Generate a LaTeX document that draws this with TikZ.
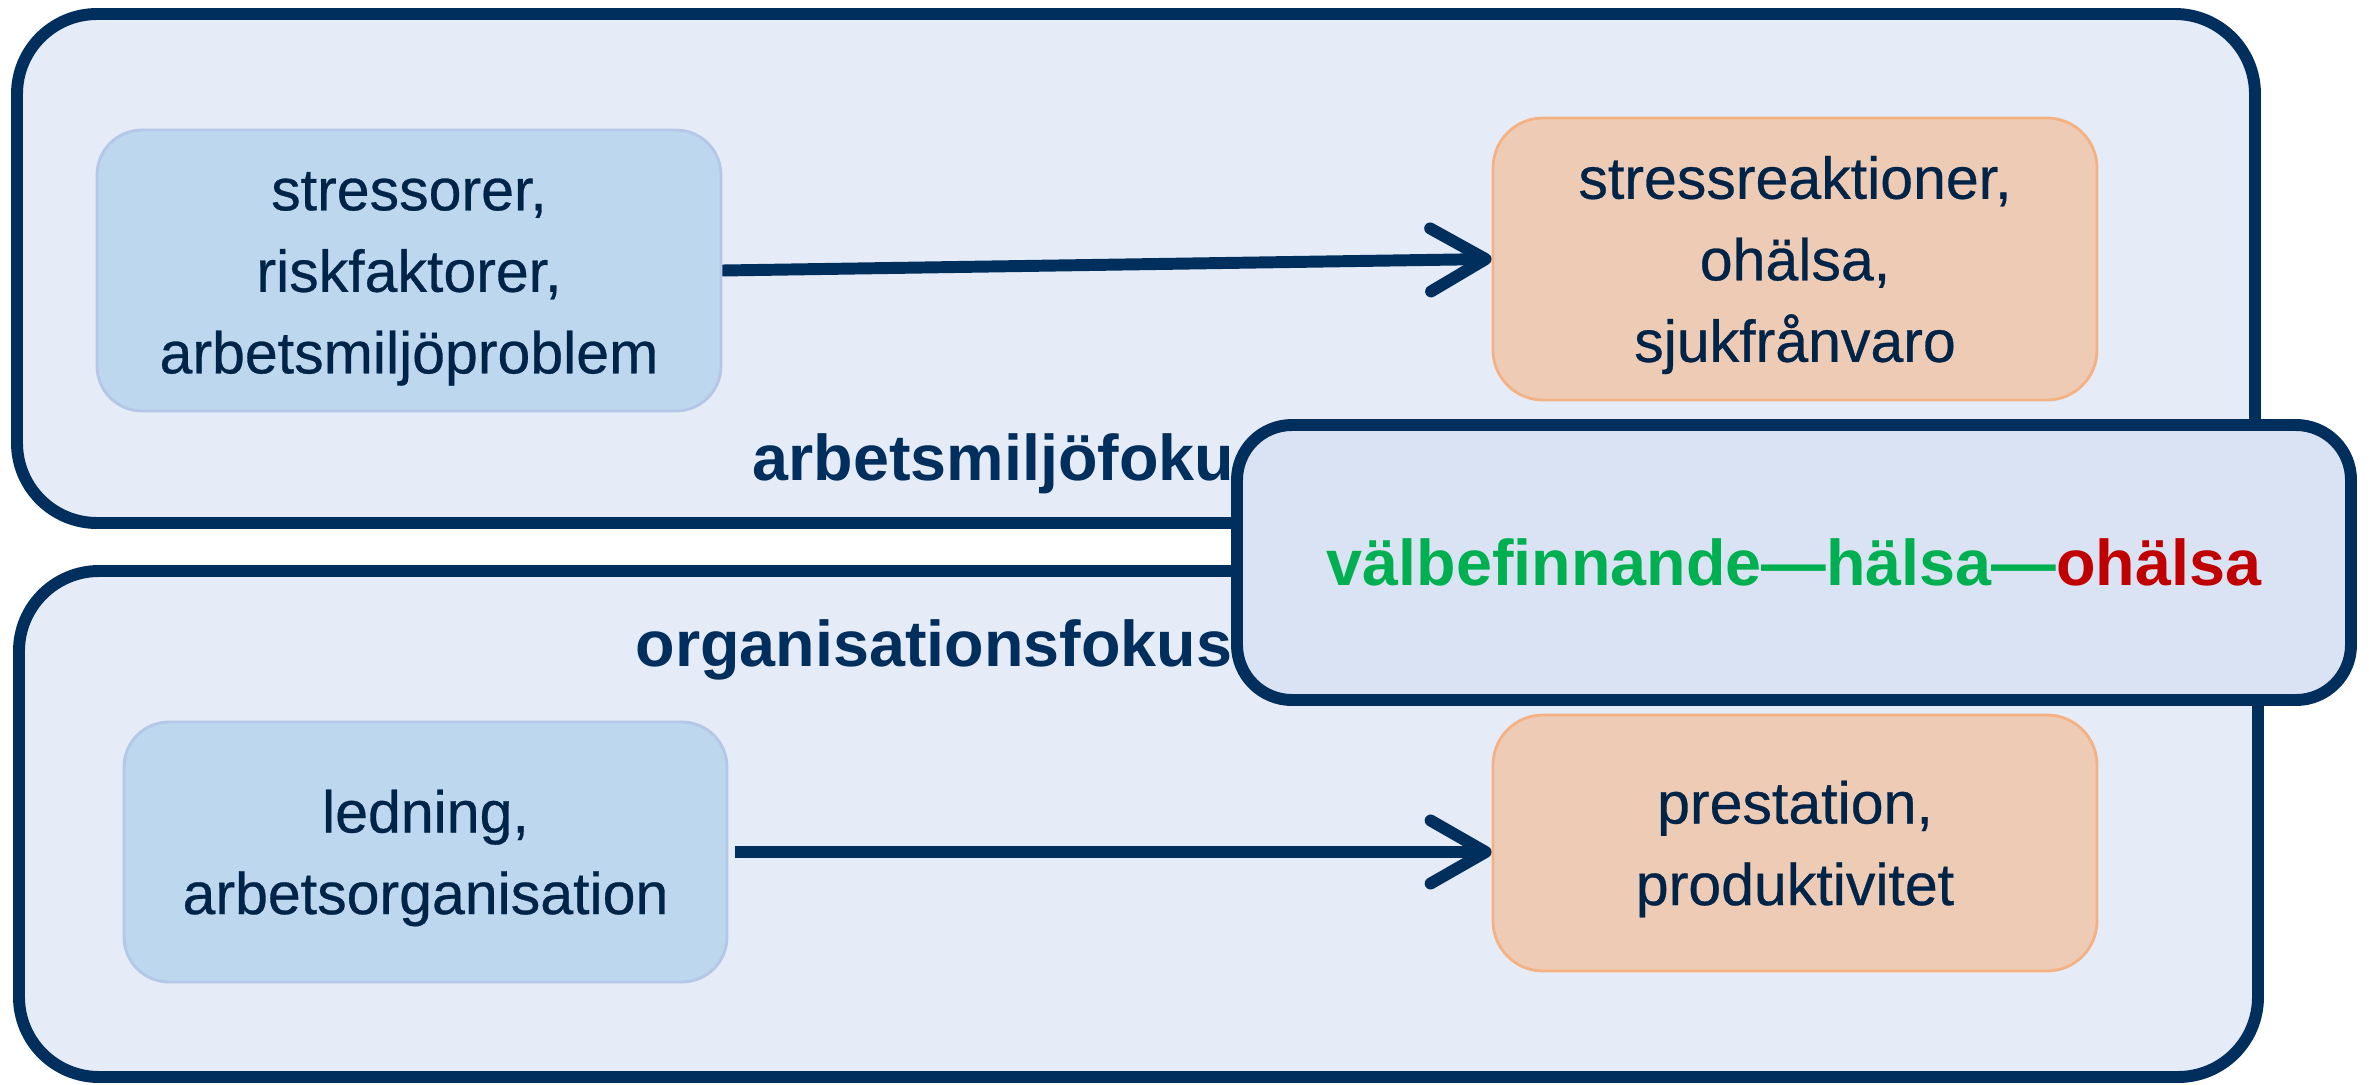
\documentclass[tikz,border=0pt]{standalone}
\usepackage{fontspec}
\setmainfont{Liberation Sans}
\newfontfamily\boxfont[FakeBold=0.5]{Liberation Sans}
\usepackage{tikz}
\usetikzlibrary{arrows.meta}

\definecolor{navy}{RGB}{0,46,93}
\definecolor{boxtext}{RGB}{0,36,72}
\definecolor{framefill}{RGB}{229,236,247}
\definecolor{overlayfill}{RGB}{218,227,243}
\definecolor{causefill}{RGB}{189,215,238}
\definecolor{causeline}{RGB}{180,199,231}
\definecolor{effectfill}{RGB}{238,203,181}
\definecolor{effectline}{RGB}{244,177,131}
\definecolor{wellgreen}{RGB}{0,176,80}
\definecolor{illred}{RGB}{192,0,0}

\newcommand{\topstrut}{\rule{0pt}{15.6pt}}

\begin{document}
\begin{tikzpicture}[
    frame/.style={draw=navy, line width=3.4pt, fill=framefill, rounded corners=0.8cm},
    causebox/.style={draw=causeline, line width=0.8pt, fill=causefill, rounded corners=0.45cm,
                     align=center, text=boxtext, font=\boxfont\fontsize{16.8}{23.2}\selectfont},
    effectbox/.style={causebox, draw=effectline, fill=effectfill, rounded corners=0.5cm},
    focuslabel/.style={text=navy, inner sep=0pt, font=\fontsize{18.4}{22}\selectfont\bfseries},
    flow/.style={draw=navy, line width=3.4pt, -{Straight Barb[length=5.5mm,width=6.3mm,round]}}]
        \useasboundingbox (0,0) rectangle (23.69,10.84);

        % the two focus frames
        \node [frame, minimum width=22.38cm, minimum height=5.09cm] (workframe) at (11.36,8.155)  {};
        \node [frame, minimum width=22.39cm, minimum height=5.06cm] (orgframe)  at (11.385,2.60)  {};

        % causes and effects
        \node [causebox,  minimum width=6.24cm, minimum height=2.81cm] (stressors)   at (4.09,8.135)
              {\topstrut stressorer,\\riskfaktorer,\\arbetsmiljöproblem};
        \node [effectbox, minimum width=6.04cm, minimum height=2.82cm] (reactions)   at (17.95,8.25)
              {\topstrut stressreaktioner,\\ohälsa,\\sjukfrånvaro};
        \node [causebox,  minimum width=6.03cm, minimum height=2.60cm] (management)  at (4.255,2.32)
              {\topstrut ledning,\\arbetsorganisation};
        \node [effectbox, minimum width=6.04cm, minimum height=2.56cm] (performance) at (17.95,2.41)
              {\topstrut prestation,\\produktivitet};

        \draw [flow] (stressors.east) -- (reactions.west);                               %
        \draw [flow] ([xshift=0.07cm]management.east) -- (management.east -| reactions.west); %

        % frame labels
        \node [focuslabel, anchor=base west] (worklabel) at (7.52,6.04) {arbetsmiljöfokus:};
        \node [focuslabel, anchor=base west] (orglabel)  at (6.35,4.18) {organisationsfokus:};

        % spectrum box on top
        \node [frame, fill=overlayfill, rounded corners=0.55cm, minimum width=11.14cm, minimum height=2.75cm,
               text=wellgreen, font=\fontsize{18.4}{22}\selectfont\bfseries] (spectrum) at (17.94,5.215)
              {välbefinnande—hälsa—\textcolor{illred}{ohälsa}};
      \end{tikzpicture}
\end{document}
